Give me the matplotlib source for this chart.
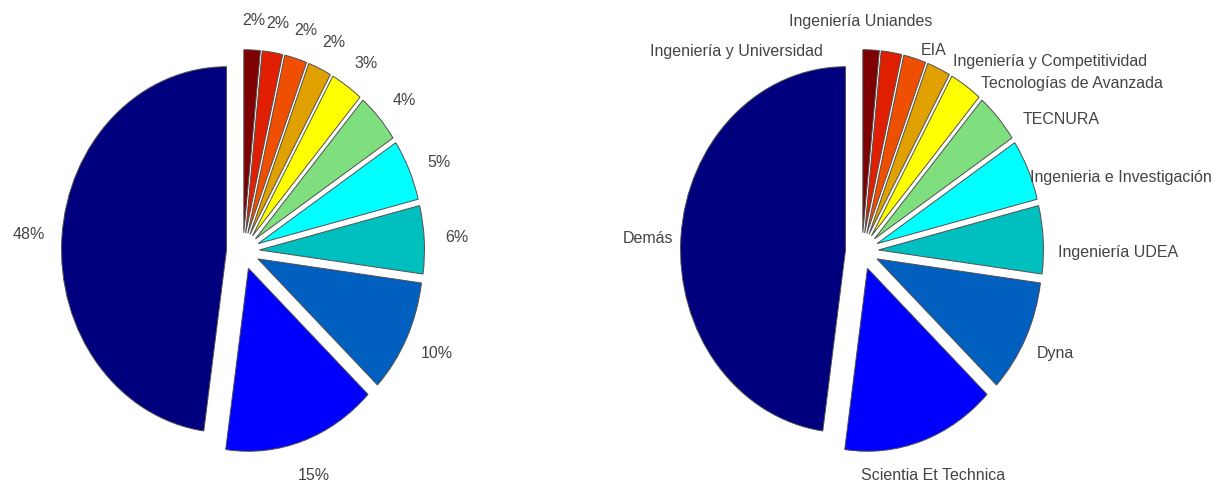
import matplotlib
matplotlib.use("Agg")
import matplotlib.pyplot as plt
import numpy as np

plt.rcParams['font.family'] = ['Liberation Sans', 'DejaVu Sans']

# share of each journal (percent), counter-clockwise from 12 o'clock
shares = [47.8, 15.1, 10.0, 6.0, 5.4, 4.4, 3.2, 2.3, 2.2, 2.0, 1.6]
journals = [
    "Demás",
    "Scientia Et Technica",
    "Dyna",
    "Ingeniería UDEA",
    "Ingenieria e Investigación",
    "TECNURA",
    "Tecnologías de Avanzada",
    "Ingeniería y Competitividad",
    "EIA",
    "Ingeniería Uniandes",
    "Ingeniería y Universidad",
]
pct_labels = [f"{round(v)}%" for v in shares]

slice_colors = ['#00007f', '#0000ff', '#005fbf', '#00bfbf', '#00ffff',
                '#7fdf7f', '#ffff00', '#dfa000', '#ef4f00', '#df1f00',
                '#7f0000']

# alignment / nudges of the right-hand labels (they were dragged in the original)
right_ha = ['center', 'center', 'center', 'left', 'left', 'left', 'left',
            'left', 'left', 'center', 'right']
right_nudge = [(0, -0.02), (0, 0), (0, 0), (-0.11, -0.08), (-0.17, -0.12),
               (0, -0.14), (-0.02, -0.15), (0, -0.14), (-0.02, -0.15),
               (-0.22, -0.03), (-0.30, -0.21)]

W, H = 1217, 486
RX, RY = 165.0, 183.0      # pie radius in pixels (original is squeezed sideways)
CY = 251                    # pie centre, pixels from top
TXT = '#444444'
FS = 11.5


def make_axes(fig, left_px, right_px, cx):
    ax = fig.add_axes([left_px / W, 0, (right_px - left_px) / W, 1])
    return ax, (-(cx - left_px) / RX, (right_px - cx) / RX), \
        (-(H - CY) / RY, CY / RY)


fig = plt.figure(figsize=(W / 100, H / 100), dpi=100)

explode = [0.1] * len(shares)
wprops = dict(edgecolor='#505050', linewidth=0.7)

# left: percentages
ax1, xl, yl = make_axes(fig, 0, 608, 243)
wedges, texts = ax1.pie(shares, labels=pct_labels, colors=slice_colors,
                        explode=explode, startangle=90, counterclock=True,
                        labeldistance=1.2, wedgeprops=wprops,
                        textprops=dict(color=TXT, fontsize=FS))
for t in texts:
    x, y = t.get_position()
    if y > 0.3:
        y -= 0.04
    t.set_position((x, y))
    t.set_ha('center')
ax1.set_aspect('auto')
ax1.set_xlim(*xl)
ax1.set_ylim(*yl)
ax1.axis('off')

# right: journal names
ax2, xl, yl = make_axes(fig, 608, W, 862)
wedges, texts = ax2.pie(shares, labels=journals, colors=slice_colors,
                        explode=explode, startangle=90, counterclock=True,
                        labeldistance=1.2, wedgeprops=wprops,
                        textprops=dict(color=TXT, fontsize=FS))
for t, ha, (dx, dy) in zip(texts, right_ha, right_nudge):
    x, y = t.get_position()
    t.set_position((x + dx, y + dy))
    t.set_ha(ha)
ax2.set_aspect('auto')
ax2.set_xlim(*xl)
ax2.set_ylim(*yl)
ax2.axis('off')

fig.savefig("out.png", dpi=100)
